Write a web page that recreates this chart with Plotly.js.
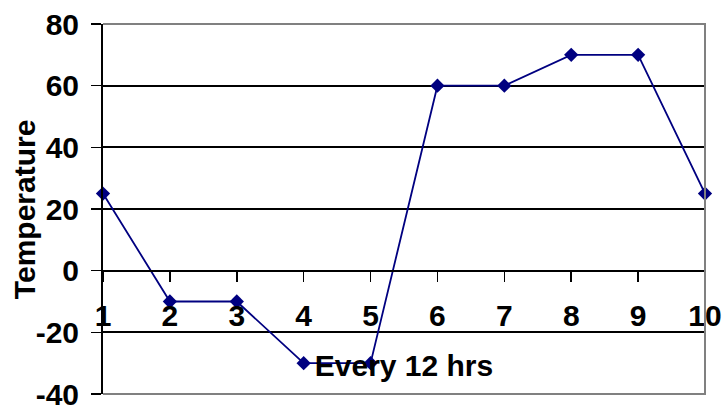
<!DOCTYPE html>
<html>
<head>
<meta charset="utf-8">
<script src="https://cdn.plot.ly/plotly-3.0.1.min.js"></script>
<style>html,body{margin:0;padding:0;background:#fff}#chart{width:723px;height:407px}</style>
</head>
<body>
<div id="chart"></div>
<script>
// Data
var periods = [1, 2, 3, 4, 5, 6, 7, 8, 9, 10];
var temperature = [25, -10, -10, -30, -30, 60, 60, 70, 70, 25];
var yTicks = [-40, -20, 0, 20, 40, 60, 80];
var xTitle = "Every 12 hrs";
var yTitle = "Temperature";

var FONT = {family: "Liberation Sans, Arial, sans-serif", size: 30, color: "#000", weight: "bold"};

var trace = {
  x: periods,
  y: temperature,
  type: "scatter",
  mode: "lines+markers",
  line: {color: "#000080", width: 1.8},
  marker: {symbol: "diamond", size: 11, color: "#000080"},
  cliponaxis: false,
  showlegend: false
};

var layout = {
  width: 723,
  height: 407,
  margin: {l: 103, r: 18, t: 24, b: 13},
  paper_bgcolor: "#fff",
  plot_bgcolor: "#fff",
  font: FONT,
  xaxis: {
    range: [1, 10],
    tickmode: "array",
    tickvals: periods,
    ticktext: periods.map(String),
    anchor: "free",
    position: 1 / 3,
    showgrid: false,
    zeroline: false,
    showline: true,
    linecolor: "#000",
    linewidth: 2,
    ticks: "outside",
    ticklen: 10,
    tickwidth: 1.5,
    tickcolor: "#000",
    ticklabelstandoff: 8,
    ticklabeloverflow: "allow",
    tickfont: FONT,
    title: {text: xTitle, font: FONT, standoff: 23}
  },
  yaxis: {
    range: [-40, 80],
    tickmode: "array",
    tickvals: yTicks,
    ticktext: yTicks.map(String),
    showgrid: true,
    gridcolor: "#000",
    gridwidth: 2,
    zeroline: false,
    showline: true,
    linecolor: "#000",
    linewidth: 2,
    ticks: "outside",
    ticklen: 10,
    tickwidth: 1.5,
    tickcolor: "#000",
    ticklabelstandoff: 6,
    ticklabeloverflow: "allow",
    tickfont: FONT
  },
  annotations: [{
    text: yTitle,
    xref: "paper", yref: "paper",
    x: -0.131, y: 0.5,
    xanchor: "center", yanchor: "middle",
    textangle: -90,
    showarrow: false,
    font: FONT
  }],
  shapes: [{
    type: "path",
    xref: "paper", yref: "paper",
    path: "M 0 1 L 1 1 L 1 0 L 0 0",
    line: {color: "#808080", width: 2},
    layer: "above"
  }]
};

Plotly.newPlot("chart", [trace], layout, {displayModeBar: false, staticPlot: true});
</script>
</body>
</html>
